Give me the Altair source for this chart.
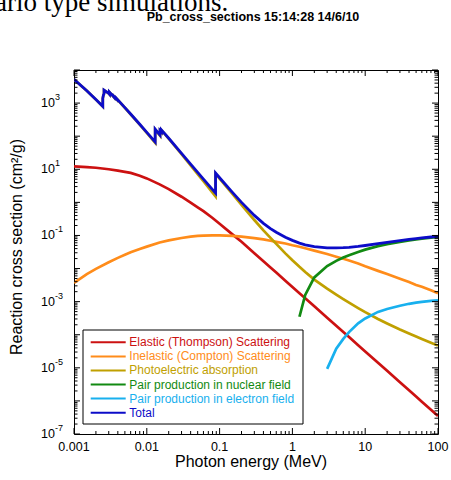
import altair as alt
import pandas as pd

# ---------------- data (Pb, cm^2/g vs photon energy in MeV) ----------------
E_GRID = [0.001, 0.0015, 0.002, 0.002484, 0.002484, 0.002534, 0.002586, 0.002586,
          0.003, 0.003066, 0.003066, 0.003301, 0.003554, 0.003554, 0.003699,
          0.003851, 0.003851, 0.004, 0.005, 0.006, 0.008, 0.01, 0.013035, 0.013035,
          0.015, 0.0152, 0.0152, 0.015527, 0.015861, 0.015861, 0.02, 0.03, 0.04,
          0.05, 0.06, 0.08, 0.088005, 0.088005, 0.1, 0.15, 0.2, 0.3, 0.4, 0.5, 0.6,
          0.8, 1.0, 1.25, 1.5, 2, 3, 4, 5, 6, 8, 10, 15, 20, 30, 40, 50, 60, 80, 100]
TOTAL = [5210, 2356, 1285, 800.6, 1397, 1726, 1944, 2458, 1965, 1857, 2146, 1796,
         1496, 1585, 1442, 1311, 1368, 1251, 730.4, 467.2, 228.7, 130.6, 67.01,
         162.1, 111.6, 107.8, 148.5, 141.6, 134.4, 154.8, 86.36, 30.32, 14.36,
         8.041, 5.021, 2.419, 1.910, 7.683, 5.549, 2.014, 0.9985, 0.4031, 0.2323,
         0.1614, 0.1248, 0.0887, 0.07102, 0.05876, 0.05222, 0.04606, 0.04234,
         0.04197, 0.04272, 0.04391, 0.04675, 0.04972, 0.05658, 0.06206, 0.06999,
         0.07584, 0.0804, 0.08411, 0.08975, 0.09385]
PHOTO = [5198, 2344, 1274, 789.6, 1386, 1715, 1933, 2447, 1955, 1847, 2136, 1786,
         1486, 1575, 1432, 1301, 1358, 1241, 721.8, 459.4, 222.2, 125.2, 62.8,
         157.9, 108.0, 104.2, 144.9, 138.1, 131.0, 151.4, 83.7, 28.64, 13.17, 7.16,
         4.35, 1.98, 1.52, 7.29, 5.22, 1.81, 0.846, 0.293, 0.143, 0.0845, 0.0554,
         0.0288, 0.0178, 0.01125, 0.00788, 0.00463, 0.00247, 0.00163, 0.00119,
         0.00093, 0.00064, 0.000484, 0.0003, 0.000219, 0.000144, 0.000109,
         0.000088, 0.000074, 0.000057, 0.000047]

E_SMOOTH = [0.001, 0.0015, 0.002, 0.003, 0.004, 0.005, 0.006, 0.008, 0.01, 0.015,
            0.02, 0.03, 0.04, 0.05, 0.06, 0.08, 0.1, 0.15, 0.2, 0.3, 0.4, 0.5, 0.6,
            0.8, 1, 1.25, 1.5, 2, 3, 4, 5, 6, 8, 10, 15, 20, 30, 40, 50, 60, 80, 100]
ELASTIC = [12.3, 11.6, 11.1, 10.0, 9.1, 8.35, 7.8, 6.4, 5.3, 3.5, 2.52, 1.48, 0.98,
           0.71, 0.54, 0.336, 0.226, 0.108, 0.0643, 0.0292, 0.01664, 0.01076,
           0.00755, 0.00431, 0.00279, 0.0018, 0.00126, 0.000721, 0.000327,
           0.000187, 0.000121, 0.0000847, 0.0000484, 0.0000313, 0.0000142,
           0.0000081, 0.00000368, 0.0000021, 0.00000136, 0.00000095, 0.00000054,
           0.00000035]
INELASTIC = [0.0037, 0.0068, 0.0098, 0.0155, 0.021, 0.026, 0.031, 0.039, 0.046,
             0.061, 0.071, 0.084, 0.092, 0.097, 0.099, 0.101, 0.101, 0.097, 0.092,
             0.083, 0.076, 0.069, 0.064, 0.057, 0.0504, 0.0456, 0.0409, 0.0349,
             0.0274, 0.0228, 0.0197, 0.0175, 0.0142, 0.0117, 0.0085, 0.0068, 0.0049,
             0.0039, 0.0032, 0.0028, 0.0022, 0.0018]

E_PAIR_NUC = [1.25, 1.5, 2, 3, 4, 5, 6, 8, 10, 15, 20, 30, 40, 50, 60, 80, 100]
PAIR_NUC = [0.00035, 0.0016, 0.0054, 0.0119, 0.0171, 0.0216, 0.0253, 0.0317, 0.0373,
            0.0474, 0.0546, 0.0643, 0.0711, 0.0763, 0.0803, 0.0865, 0.0909]
E_PAIR_EL = [3, 4, 5, 6, 8, 10, 15, 20, 30, 40, 50, 60, 80, 100]
PAIR_EL = [0.0000093, 0.000038, 0.000075, 0.00012, 0.00022, 0.00031, 0.00049,
           0.0006, 0.00075, 0.00086, 0.00093, 0.00098, 0.00105, 0.0011]

SERIES = ["Elastic (Thompson) Scattering", "Inelastic (Compton) Scattering",
          "Photoelectric absorption", "Pair production in nuclear field",
          "Pair production in electron field", "Total"]
COLORS = ["#cc1111", "#ff8c1a", "#c0a000", "#128a12", "#18b0ee", "#0c0cc8"]

X_LABEL_VALUES = [0.001, 0.01, 0.1, 1, 10, 100]
X_LABELS = ["0.001", "0.01", "0.1", "1", "10", "100"]
Y_LABEL_VALUES = [1e-7, 1e-5, 1e-3, 1e-1, 1e1, 1e3]
Y_EXPONENTS = ["-7", "-5", "-3", "-1", "1", "3"]

TITLE = "Pb_cross_sections 15:14:28 14/6/10"
PAGE_TEXT = "ario type simulations."
X_TITLE = "Photon energy (MeV)"
Y_TITLE = "Reaction cross section (cm²/g)"

# ---------------- chart ----------------
W, H = 364, 364
FONT = "Liberation Sans"
xs = alt.Scale(type="log", domain=[0.001, 100], nice=False)
ys = alt.Scale(type="log", domain=[1e-7, 1e4], nice=False)

x_major = X_LABEL_VALUES
x_minor = [m * 10.0 ** d for d in range(-3, 2) for m in range(2, 10)]
y_major = [10.0 ** d for d in range(-7, 5)]
y_minor = [m * 10.0 ** d for d in range(-7, 4) for m in range(2, 10)]


def line_layer(E, V, color, width=2.7):
    df = pd.DataFrame({"E": E, "v": V, "i": list(range(len(E)))})
    return alt.Chart(df).mark_line(color=color, strokeWidth=width, clip=True).encode(
        x=alt.X("E:Q", scale=xs, axis=None),
        y=alt.Y("v:Q", scale=ys, axis=None),
        order="i:Q",
    )


lines = [
    line_layer(E_SMOOTH, ELASTIC, COLORS[0]),
    line_layer(E_SMOOTH, INELASTIC, COLORS[1]),
    line_layer(E_GRID, PHOTO, COLORS[2]),
    line_layer(E_PAIR_NUC, PAIR_NUC, COLORS[3]),
    line_layer(E_PAIR_EL, PAIR_EL, COLORS[4]),
    line_layer(E_GRID, TOTAL, COLORS[5], 2.8),
]


def xticks(vals, y0, y1):
    return alt.Chart(pd.DataFrame({"t": vals})).mark_rule(color="black", strokeWidth=1).encode(
        x=alt.X("t:Q", scale=xs, axis=None), y=alt.value(y0), y2=alt.value(y1))


def yticks(vals, x0, x1):
    return alt.Chart(pd.DataFrame({"t": vals})).mark_rule(color="black", strokeWidth=1).encode(
        y=alt.Y("t:Q", scale=ys, axis=None), x=alt.value(x0), x2=alt.value(x1))


ticks = [
    xticks(x_major, H, H - 6), xticks(x_minor, H, H - 3),
    xticks(x_major, 0, 6), xticks(x_minor, 0, 3),
    yticks(y_major, 0, 6), yticks(y_minor, 0, 3.5),
    yticks(y_major, W, W - 6), yticks(y_minor, W, W - 3.5),
]

xlab = alt.Chart(pd.DataFrame({"v": X_LABEL_VALUES, "t": X_LABELS})).mark_text(
    font=FONT, fontSize=12.5, baseline="middle", align="center", color="black"
).encode(x=alt.X("v:Q", scale=xs, axis=None), y=alt.value(H + 12.5), text="t:N")

ybase = alt.Chart(pd.DataFrame({"v": Y_LABEL_VALUES, "t": ["10"] * len(Y_LABEL_VALUES)})).mark_text(
    font=FONT, fontSize=12.5, baseline="middle", align="right", color="black"
).encode(y=alt.Y("v:Q", scale=ys, axis=None), x=alt.value(-19), text="t:N")

yexp = alt.Chart(pd.DataFrame({"v": Y_LABEL_VALUES, "t": Y_EXPONENTS})).mark_text(
    font=FONT, fontSize=9, baseline="middle", align="left", dy=-6, color="black"
).encode(y=alt.Y("v:Q", scale=ys, axis=None), x=alt.value(-19), text="t:N")


def label(txt, x, y, **kw):
    return alt.Chart(pd.DataFrame({"t": [txt]})).mark_text(**kw).encode(
        text="t:N", x=alt.value(x), y=alt.value(y))


texts = [
    label(X_TITLE, 177, 391.5, font=FONT, fontSize=16, baseline="middle", align="center", color="black"),
    label(Y_TITLE, -57.5, 177, font=FONT, fontSize=16, baseline="middle", align="center", angle=270, color="black"),
    label(TITLE, 179, -53.5, font=FONT, fontSize=12.5, fontWeight="bold", baseline="middle", align="center", color="black"),
    label(PAGE_TEXT, -79, -59, font="Liberation Serif", fontSize=27, baseline="alphabetic", align="left", color="black"),
]

main = alt.layer(*lines, *ticks, xlab, ybase, yexp, *texts)

# legend
leg_df = pd.DataFrame({"series": SERIES})
ly = alt.Y("series:N", scale=alt.Scale(type="point", domain=SERIES, range=[272.3, 342.7], padding=0), axis=None)
lc = alt.Color("series:N", scale=alt.Scale(domain=SERIES, range=COLORS), legend=None)
box = alt.Chart(pd.DataFrame({"k": [0]})).mark_rect(fill="white", stroke="black", strokeWidth=1).encode(
    x=alt.value(9), x2=alt.value(229), y=alt.value(260), y2=alt.value(354))
lrules = alt.Chart(leg_df).mark_rule(strokeWidth=2).encode(
    x=alt.value(16.7), x2=alt.value(51.7), y=ly, color=lc)
ltext = alt.Chart(leg_df).mark_text(font=FONT, fontSize=12, align="left", baseline="middle").encode(
    x=alt.value(55.3), y=ly, text="series:N", color=lc)
legend = alt.layer(box, lrules, ltext)

chart = alt.layer(main, legend).resolve_scale(y="independent", color="independent").properties(
    width=W, height=H,
    autosize=alt.AutoSizeParams(type="none"),
    padding={"left": 74, "top": 70, "right": 13, "bottom": 46},
    background="white",
).configure_view(stroke="black", strokeWidth=1)

chart.save("out.html", embed_options={"renderer": "svg", "actions": False})
